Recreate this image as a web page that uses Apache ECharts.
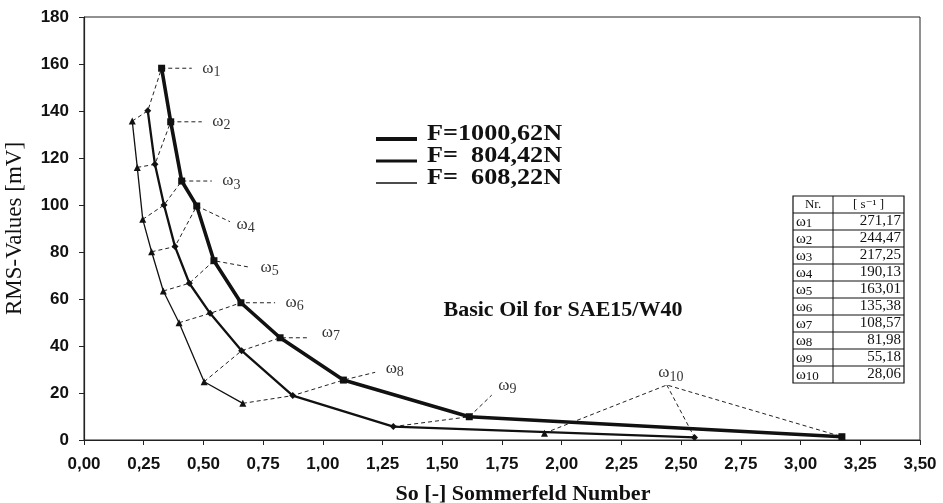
<!DOCTYPE html>
<html><head><meta charset="utf-8">
<script src="https://cdn.jsdelivr.net/npm/echarts@6/dist/echarts.min.js"></script>
<style>html,body{margin:0;padding:0;background:#fff}#c{width:943px;height:503px}</style>
</head><body><div id="c"></div>
<script>
// ---- data ----
const omegaIdx = ['1','2','3','4','5','6','7','8','9','10'];
const omegaRates = ['271,17','244,47','217,25','190,13','163,01','135,38','108,57','81,98','55,18','28,06'];
const seriesNames = ['F=1000,62N','F=  804,42N','F=  608,22N'];

const thickX = [0.325,0.363,0.409,0.472,0.544,0.657,0.821,1.086,1.613,3.173];
const thickY = [158.2,135.4,110.2,99.6,76.3,58.4,43.5,25.5,9.9,1.4];
const medX   = [0.267,0.297,0.335,0.381,0.441,0.528,0.660,0.874,1.295,2.556];
const medY   = [140.1,117.3,100.0,82.3,66.7,53.9,38.0,18.9,5.7,1.1];
const thinX  = [0.202,0.223,0.246,0.283,0.332,0.398,0.503,0.665,null,1.928];
const thinY  = [135.7,116.0,93.9,80.1,63.4,49.9,24.8,15.6,null,2.9];

// annotation anchor points (end of the dashed omega leader lines)
const anchorX = [0.451,0.493,0.535,0.611,0.695,0.800,0.935,1.219,1.707,2.440];
const anchorY = [158.2,135.4,110.2,92.9,73.5,58.4,43.5,28.8,19.1,23.4];

const yTicks = {min:0, max:180, step:20};
const xTicks = {min:0, max:3.5, step:0.25};

// ---- build ----
const pt = (xs, ys, i) => (xs[i] == null ? ['-','-'] : [xs[i], ys[i]]);
const mk = (xs, ys) => xs.map((_, i) => pt(xs, ys, i));

const serif = '"Liberation Serif","DejaVu Serif",serif';
const sans = '"Liberation Sans","DejaVu Sans",sans-serif';
const omegaRich = i => '{w|ω}{s|' + omegaIdx[i] + '}';

const dashStyle = {color:'#222', width:1, type:[4,3]};
const series = [];
const last = omegaIdx.length - 1;
for (let i = 0; i < omegaIdx.length; i++) {
  const a = [anchorX[i], anchorY[i]];
  const paths = [];
  if (i === last) {
    paths.push([pt(thinX,thinY,i), a, pt(thickX,thickY,i)]);
    paths.push([a, pt(medX,medY,i)]);
  } else {
    const d = [];
    if (thinX[i] != null) d.push(pt(thinX,thinY,i));
    d.push(pt(medX,medY,i), pt(thickX,thickY,i), a);
    paths.push(d);
  }
  paths.forEach(d => series.push({type:'line', data:d, symbol:'none', silent:true, z:2,
    lineStyle:dashStyle, animation:false}));
}
series.push({name:seriesNames[0], type:'line', data:mk(thickX,thickY), z:5,
  symbol:'rect', symbolSize:7, itemStyle:{color:'#111'}, lineStyle:{color:'#111', width:3.6}, animation:false});
series.push({name:seriesNames[1], type:'line', data:mk(medX,medY), z:5,
  symbol:'diamond', symbolSize:7, itemStyle:{color:'#111'}, lineStyle:{color:'#111', width:2.3}, animation:false});
series.push({name:seriesNames[2], type:'line', data:mk(thinX,thinY), z:5, connectNulls:false,
  symbol:'triangle', symbolSize:7, itemStyle:{color:'#111'}, lineStyle:{color:'#111', width:1.3}, animation:false});

const labelRich = {
  w:{fontFamily:serif, fontSize:17, color:'#000', verticalAlign:'top', lineHeight:17},
  s:{fontFamily:serif, fontSize:14, color:'#000', padding:[8,0,0,0], lineHeight:14}
};
series.push({type:'scatter', symbol:'circle', symbolSize:1, silent:true, z:6, animation:false,
  itemStyle:{color:'rgba(0,0,0,0)'},
  data: anchorX.map((x, i) => {
    const item = {value:[x, anchorY[i]], name:omegaRich(i)};
    if (i === 8) item.label = {position:'right', distance:6, offset:[0,-10]};
    if (i === 9) item.label = {position:'top', distance:3, offset:[4,0]};
    if (i === 6) item.label = {position:'right', distance:14, offset:[0,-5]};
    if (i === 7) item.label = {position:'right', distance:10, offset:[0,-4]};
    if (i === 3) item.label = {position:'right', distance:6, offset:[0,3]};
    return item;
  }),
  label:{show:true, position:'right', distance:10, formatter:p => p.name, rich:labelRich}});

// legend + table graphics
const graphic = [];
const legW = [4, 3, 1.5];
const legY = [139, 161, 183];
seriesNames.forEach((n, i) => {
  graphic.push({type:'line', shape:{x1:376, y1:legY[i], x2:417, y2:legY[i]}, style:{stroke:'#111', lineWidth:legW[i]}});
  graphic.push({type:'text', x:427, y:legY[i]-5, scaleX:1.14, originX:0, originY:0,
    style:{text:n, fill:'#111', font:'bold 23px '+serif, align:'left', verticalAlign:'middle'}});
});
graphic.push({type:'text', x:563, y:310, style:{text:'Basic Oil for SAE15/W40', fill:'#111', font:'bold 22px '+serif, align:'center', verticalAlign:'middle'}});

const tx = 793, ty = 196, tw = 111, rh = 17, cdiv = 833;
const nRows = omegaIdx.length + 1;
graphic.push({type:'rect', z:10, shape:{x:tx, y:ty, width:tw, height:rh*nRows}, style:{fill:'#fff', stroke:'#111', lineWidth:1.2}});
graphic.push({type:'line', z:11, shape:{x1:cdiv, y1:ty, x2:cdiv, y2:ty+rh*nRows}, style:{stroke:'#111', lineWidth:1}});
for (let r = 1; r < nRows; r++) {
  graphic.push({type:'line', z:11, shape:{x1:tx, y1:ty+rh*r, x2:tx+tw, y2:ty+rh*r}, style:{stroke:'#111', lineWidth:1}});
}
graphic.push({type:'text', z:12, x:(tx+cdiv)/2, y:ty+rh/2, style:{text:'Nr.', fill:'#111', font:'13px '+serif, align:'center', verticalAlign:'middle'}});
graphic.push({type:'text', z:12, x:(cdiv+tx+tw)/2, y:ty+rh/2, style:{text:'[ s⁻¹ ]', fill:'#111', font:'13px '+serif, align:'center', verticalAlign:'middle'}});
const tableRich = {
  w:{fontFamily:serif, fontSize:15, fill:'#111', verticalAlign:'top', lineHeight:13},
  s:{fontFamily:serif, fontSize:13, fill:'#111', padding:[5,0,0,0], lineHeight:13}
};
omegaIdx.forEach((l, i) => {
  const cy = ty + rh*(i+1) + rh/2;
  graphic.push({type:'text', z:12, x:tx+3, y:cy, style:{text:omegaRich(i), rich:tableRich, fill:'#111', align:'left', verticalAlign:'middle'}});
  graphic.push({type:'text', z:12, x:tx+tw-3, y:cy, style:{text:omegaRates[i], fill:'#111', font:'15px '+serif, align:'right', verticalAlign:'middle'}});
});

const chart = echarts.init(document.getElementById('c'), null, {renderer:'canvas'});
chart.setOption({
  backgroundColor:'#fff',
  animation:false,
  grid:{left:84, right:23, top:17, bottom:63, outerBoundsMode:'none', containLabel:false,
    show:true, borderColor:'#222', borderWidth:1, backgroundColor:'transparent'},
  xAxis:{type:'value', min:xTicks.min, max:xTicks.max, interval:xTicks.step,
    name:'So [-] Sommerfeld Number', nameLocation:'middle', nameGap:43,
    nameTextStyle:{fontFamily:serif, fontWeight:'bold', fontSize:22, color:'#111', padding:[0,0,0,42]},
    axisLine:{lineStyle:{color:'#222', width:1.2}},
    axisTick:{show:true, length:5, lineStyle:{color:'#222'}},
    splitLine:{show:false},
    axisLabel:{margin:16, fontFamily:sans, fontWeight:'bold', fontSize:17, color:'#111',
      formatter:v => v.toFixed(2).replace('.', ',')}},
  yAxis:{type:'value', min:yTicks.min, max:yTicks.max, interval:yTicks.step,
    name:'RMS-Values [mV]', nameLocation:'middle', nameGap:58,
    nameTextStyle:{fontFamily:serif, fontSize:23, color:'#111'},
    axisLine:{show:true, lineStyle:{color:'#222', width:1.2}},
    axisTick:{show:true, length:5, lineStyle:{color:'#222'}},
    splitLine:{show:false},
    axisLabel:{margin:15, fontFamily:sans, fontWeight:'bold', fontSize:17, color:'#111'}},
  series:series,
  graphic:graphic
});
</script>
</body></html>
